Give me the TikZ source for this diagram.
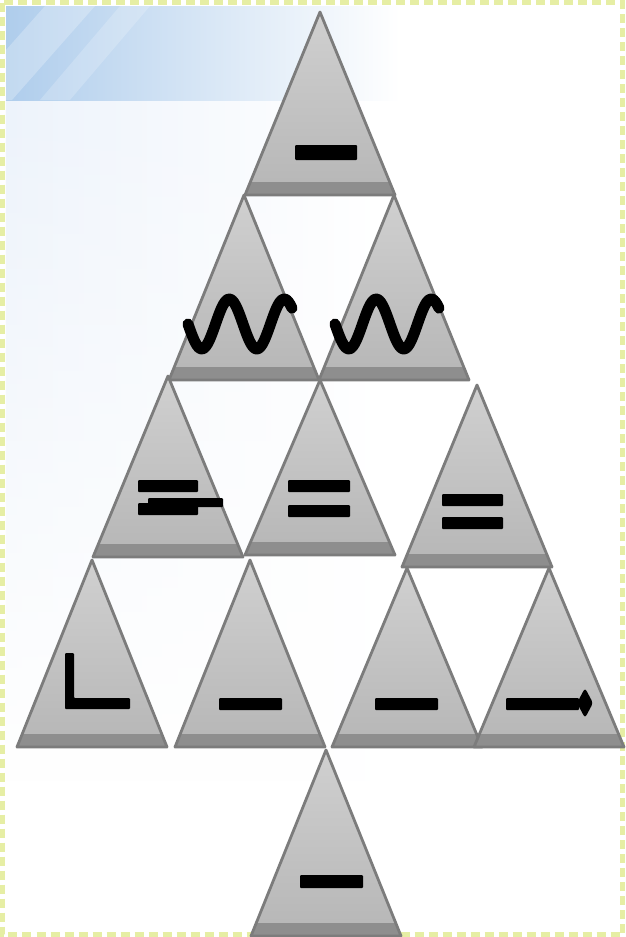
\documentclass[tikz,border=0pt]{standalone}
\usepackage{tikz}
\usetikzlibrary{calc,fadings}
\definecolor{conetop}{HTML}{D0D0D0}
\definecolor{conebot}{HTML}{B6B6B6}
\definecolor{conebar}{HTML}{8E8E8E}
\definecolor{coneedge}{HTML}{7C7C7C}
\definecolor{bandblue}{HTML}{AFCDEC}
\definecolor{paleblue}{HTML}{EDF3FB}
\definecolor{framegreen}{HTML}{E6EEA4}

\begin{document}
\begin{tikzpicture}[x=1pt,y=-1pt,
  edge/.style={coneedge,line width=2.8pt,line join=round},
  sign/.style={fill=black,rounded corners=1pt},
  wave/.style={black,line width=11pt,line cap=round,line join=round}]
\useasboundingbox (0,0) rectangle (625,937);
% background of the slide
\fill[white] (0,0) rectangle (625,937);
\shade[left color=paleblue,right color=white,path fading=south] (6,100) rectangle (380,780);
\shade[left color=bandblue,right color=white] (6,6) rectangle (400,100);
\fill[white,opacity=0.25] (45,6) -- (95,6) -- (12,100) -- (6,100) -- (6,50) -- cycle;
\fill[white,opacity=0.2] (120,6) -- (150,6) -- (70,100) -- (40,100) -- cycle;
\draw[framegreen,line width=5pt,dash pattern=on 9pt off 5pt] (2.5,2.5) rectangle (622.5,934.5);
% the triangles: apex x / apex y / bottom y
\foreach \ax/\ay/\by in {320/12/195, 244/195/380, 394/195/380,
    168/376/557, 320/380/555, 477/385/567,
    92/560/747, 250/560/747, 407/568/747, 549/568/747,
    326/750/936}{
  \begin{scope}
    \clip (\ax,\ay) -- (\ax+75,\by) -- (\ax-75,\by) -- cycle;
    \shade[top color=conetop,bottom color=conebot] (\ax-75,\ay) rectangle (\ax+75,\by);
    \fill[conebar] (\ax-75,\by-13) rectangle (\ax+75,\by);
  \end{scope}
  \draw[edge] (\ax,\ay) -- (\ax+75,\by) -- (\ax-75,\by) -- cycle;
}
% signs
\fill[sign] (295,145) rectangle (357,160);
\draw[wave] plot[domain=0:104,samples=60,smooth] ({188+\x},{324+25*sin(\x/55*360)});
\draw[wave] plot[domain=0:104,samples=60,smooth] ({335+\x},{324+25*sin(\x/55*360)});
\fill[sign] (138,480) rectangle (198,492);
\fill[sign] (138,503) rectangle (198,515);
\fill[sign] (148,498) rectangle (223,507);
\fill[sign] (288,480) rectangle (350,492);
\fill[sign] (288,505) rectangle (350,517);
\fill[sign] (442,494) rectangle (503,506);
\fill[sign] (442,517) rectangle (503,529);
\fill[sign] (65,653) -- (74,653) -- (74,698) -- (130,698) -- (130,709) -- (65,709) -- cycle;
\fill[sign] (219,698) rectangle (282,710);
\fill[sign] (375,698) rectangle (438,710);
\fill[sign] (506,698) rectangle (579,710);
\fill[black,rounded corners=3pt] (577,703) -- (585,688) -- (593,703) -- (585,718) -- cycle;
\fill[sign] (300,875) rectangle (363,888);
\end{tikzpicture}
\end{document}
